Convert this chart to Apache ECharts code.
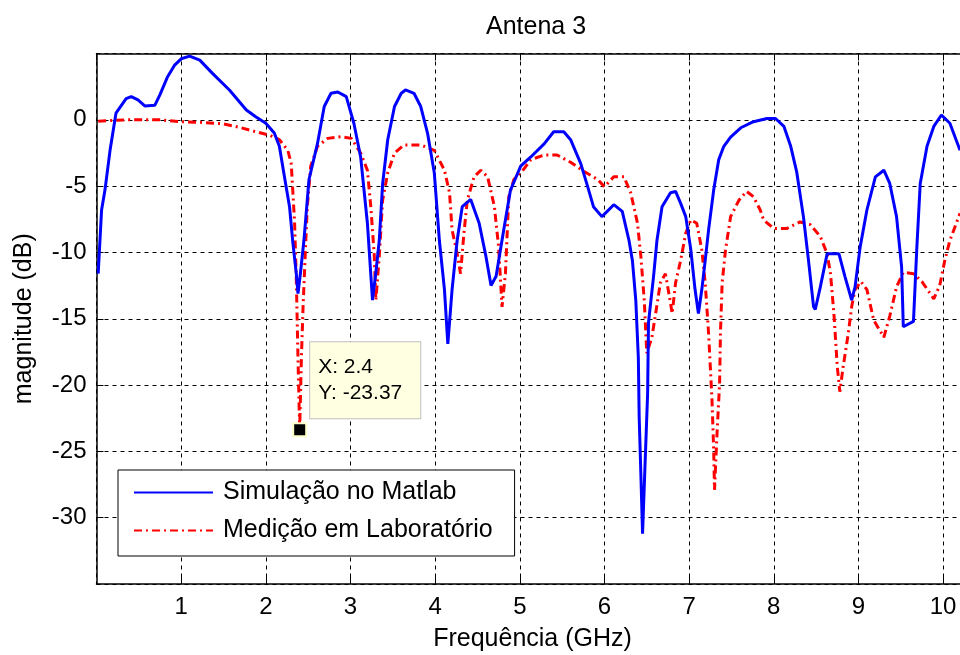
<!DOCTYPE html>
<html>
<head>
<meta charset="utf-8">
<title>Antena 3</title>
<script src="https://cdn.jsdelivr.net/npm/echarts@6/dist/echarts.min.js"></script>
<style>
  html, body { margin: 0; padding: 0; background: #fff; }
  #chart { width: 960px; height: 655px; }
</style>
</head>
<body>
<div id="chart"></div>
<script>
// Simulação no Matlab (GHz, dB)
const simFreq = [0.02, 0.06, 0.1, 0.16, 0.23, 0.35, 0.41, 0.49, 0.57, 0.69, 0.75, 0.84, 0.92, 1.0, 1.1, 1.22, 1.37, 1.57, 1.77, 1.88,
  2.0, 2.1, 2.16, 2.22, 2.28, 2.32, 2.36, 2.38, 2.41, 2.45, 2.51, 2.61, 2.69, 2.77, 2.85, 2.95, 3.04, 3.12, 3.2, 3.26,
  3.3, 3.34, 3.38, 3.44, 3.52, 3.6, 3.65, 3.75, 3.83, 3.91, 3.99, 4.05, 4.11, 4.15, 4.2, 4.26, 4.32, 4.42, 4.52, 4.6,
  4.66, 4.72, 4.81, 4.89, 5.01, 5.13, 5.29, 5.4, 5.52, 5.6, 5.72, 5.8, 5.87, 5.97, 6.11, 6.21, 6.29, 6.33, 6.37, 6.4,
  6.41, 6.43, 6.45, 6.48, 6.51, 6.52, 6.58, 6.62, 6.68, 6.78, 6.84, 6.9, 6.96, 7.02, 7.07, 7.11, 7.15, 7.19, 7.23, 7.29,
  7.35, 7.41, 7.49, 7.61, 7.76, 7.92, 8.02, 8.12, 8.2, 8.27, 8.35, 8.41, 8.47, 8.49, 8.55, 8.63, 8.77, 8.84, 8.92, 8.96,
  9.02, 9.1, 9.2, 9.3, 9.37, 9.45, 9.51, 9.53, 9.65, 9.69, 9.73, 9.81, 9.89, 9.98, 10.08, 10.2]
const simMag = [-11.6, -6.8, -5.3, -2.3, 0.5, 1.6, 1.75, 1.5, 1.05, 1.1, 1.9, 3.25, 4.1, 4.6, 4.8, 4.5, 3.5, 2.25, 0.74, 0.23,
  -0.26, -1.0, -2.0, -4.3, -6.55, -9.3, -11.6, -13.1, -11.5, -9.1, -4.5, -1.8, 1.0, 2.0, 2.1, 1.75, -0.26, -2.8, -7.8, -13.6,
  -11.5, -9.1, -4.8, -1.5, 1.0, 2.0, 2.25, 2.0, 1.0, -1.0, -4.0, -9.1, -12.8, -16.9, -12.8, -9.1, -6.55, -6.0, -7.8, -10.3,
  -12.5, -11.8, -8.3, -5.3, -3.5, -2.8, -1.8, -0.9, -0.9, -1.5, -3.3, -5.0, -6.55, -7.3, -6.4, -6.9, -9.1, -10.6, -13.6, -17.9,
  -22.4, -26.7, -31.2, -25.9, -20.6, -15.3, -11.8, -9.1, -6.55, -5.5, -5.4, -6.3, -7.3, -9.8, -12.8, -14.6, -12.8, -10.6, -8.3, -5.3,
  -3.0, -2.0, -1.3, -0.6, -0.14, 0.1, 0.1, -0.5, -2.0, -3.9, -7.3, -10.6, -14.1, -14.3, -12.6, -10.1, -10.1, -11.8, -13.6, -12.6,
  -9.6, -6.8, -4.3, -3.8, -4.8, -7.3, -11.1, -15.6, -15.2, -9.6, -4.8, -2.0, -0.5, 0.36, -0.26, -2.3]

// Medição em Laboratório (GHz, dB)
const labFreq = [0.02, 0.35, 0.75, 0.98, 1.26, 1.49, 1.69, 1.88, 2.04, 2.16, 2.26, 2.3, 2.32, 2.34, 2.36, 2.38, 2.4, 2.42, 2.44, 2.47,
  2.49, 2.53, 2.61, 2.73, 2.89, 3.01, 3.12, 3.2, 3.24, 3.28, 3.3, 3.34, 3.38, 3.44, 3.52, 3.63, 3.83, 3.99, 4.11, 4.17,
  4.2, 4.26, 4.3, 4.34, 4.38, 4.46, 4.54, 4.62, 4.7, 4.75, 4.79, 4.83, 4.87, 4.93, 5.05, 5.13, 5.29, 5.44, 5.6, 5.76,
  5.92, 6.0, 6.11, 6.23, 6.31, 6.39, 6.43, 6.47, 6.5, 6.56, 6.6, 6.66, 6.72, 6.78, 6.8, 6.84, 6.9, 6.96, 7.02, 7.09,
  7.15, 7.19, 7.23, 7.27, 7.29, 7.3, 7.33, 7.36, 7.37, 7.39, 7.43, 7.49, 7.59, 7.68, 7.76, 7.84, 7.88, 8.0, 8.15, 8.31,
  8.43, 8.55, 8.63, 8.67, 8.71, 8.75, 8.78, 8.82, 8.88, 8.92, 8.96, 9.03, 9.1, 9.18, 9.3, 9.37, 9.45, 9.53, 9.65, 9.75,
  9.89, 9.96, 10.02, 10.08, 10.2]
const labMag = [-0.1, 0, 0, -0.14, -0.2, -0.3, -0.57, -0.9, -1.15, -1.5, -2.3, -3.3, -5.5, -7.8, -12, -18, -23.37, -18, -14.1, -9.5,
  -6.55, -3.5, -2.0, -1.4, -1.27, -1.4, -2.5, -3.8, -6.55, -10.1, -13.6, -10.3, -6.05, -4.0, -2.5, -1.9, -1.9, -2.3, -3.8, -5.5,
  -8.3, -10.1, -11.6, -8.55, -6.05, -4.3, -3.8, -4.3, -6.55, -9.6, -14.1, -11.6, -5.8, -4.5, -3.7, -3.0, -2.65, -2.65, -3.2, -3.9,
  -4.5, -5.05, -4.3, -4.3, -5.5, -7.8, -10.3, -13.6, -17.6, -16.4, -14.8, -12.3, -11.6, -13.8, -14.6, -12.3, -10.6, -8.55, -7.55, -7.8,
  -9.8, -12.3, -16.1, -21.1, -24.9, -27.9, -23.6, -19.9, -16.1, -12.3, -9.8, -7.3, -6.05, -5.4, -5.8, -6.8, -7.55, -8.2, -8.2, -7.7,
  -7.9, -8.8, -10.1, -11.6, -14.6, -18.6, -20.5, -18.6, -16.1, -14.1, -12.8, -12.2, -12.8, -15.1, -16.4, -14.8, -12.6, -11.5, -11.6, -12.2,
  -13.5, -12.5, -10.6, -9.1, -7.05]

// data cursor
const tipX = 2.4
const tipY = -23.37

const fontFamily = "'Liberation Sans', Arial, sans-serif"
const gridDash = [4, 4]

const chart = echarts.init(document.getElementById('chart'), null, { renderer: 'canvas' })

const simData = simFreq.map((f, i) => [f, simMag[i]])
const labData = labFreq.map((f, i) => [f, labMag[i]])

const option = {
  animation: false,
  backgroundColor: '#fff',
  textStyle: { fontFamily: fontFamily },
  title: {
    text: 'Antena 3',
    left: 531,
    top: 10,
    textAlign: 'center',
    textStyle: { fontFamily: fontFamily, fontSize: 25, fontWeight: 'normal', color: '#000' }
  },
  grid: {
    left: 96.5,
    top: 53.5,
    width: 872,
    height: 530.5,
    outerBoundsMode: 'none'
  },
  legend: {
    orient: 'vertical',
    left: 118,
    top: 470,
    padding: [10, 22, 13, 15],
    itemWidth: 79,
    itemHeight: 25,
    itemGap: 13,
    backgroundColor: '#fff',
    borderColor: '#000',
    borderWidth: 1,
    borderRadius: 0,
    itemStyle: { opacity: 0 },
    textStyle: { fontFamily: fontFamily, fontSize: 25, color: '#000', padding: [0, 0, 0, 5] },
    data: ['Simulação no Matlab', 'Medição em Laboratório']
  },
  xAxis: [
    {
      type: 'value',
      min: 0,
      max: 10.3,
      interval: 1,
      name: 'Frequência (GHz)',
      nameLocation: 'middle',
      nameGap: 43,
      nameTextStyle: { fontFamily: fontFamily, fontSize: 25, color: '#000' },
      axisLine: { show: true, onZero: false, lineStyle: { color: '#000', width: 1.5 } },
      axisTick: { show: true, inside: true, length: 7, lineStyle: { color: '#000' } },
      axisLabel: { showMinLabel: false, showMaxLabel: false, margin: 11, fontSize: 24, color: '#000', fontFamily: fontFamily },
      splitLine: { show: true, lineStyle: { color: '#000', type: gridDash, width: 1 } }
    },
    {
      type: 'value',
      position: 'top',
      min: 0,
      max: 10.3,
      interval: 1,
      axisLine: { show: true, onZero: false, lineStyle: { color: '#000', width: 1.5 } },
      axisTick: { show: true, inside: true, length: 7, lineStyle: { color: '#000' } },
      axisLabel: { show: false },
      splitLine: { show: false }
    }
  ],
  yAxis: {
    type: 'value',
    min: -35,
    max: 5,
    interval: 5,
    name: 'magnitude (dB)',
    nameLocation: 'middle',
    nameRotate: 90,
    nameGap: 60,
    nameTextStyle: { fontFamily: fontFamily, fontSize: 25, color: '#000' },
    axisLine: { show: true, onZero: false, lineStyle: { color: '#000', width: 1.5 } },
    axisTick: { show: true, inside: true, length: 7, lineStyle: { color: '#000' } },
    axisLabel: { showMinLabel: false, showMaxLabel: false, margin: 10, fontSize: 24, color: '#000', fontFamily: fontFamily },
    splitLine: { show: true, lineStyle: { color: '#000', type: gridDash, width: 1 } }
  },
  series: [
    {
      name: 'Simulação no Matlab',
      type: 'line',
      data: simData,
      symbol: 'none',
      lineStyle: { color: '#0000ff', width: 3 },
      itemStyle: { color: '#0000ff' },
      z: 3
    },
    {
      name: 'Medição em Laboratório',
      type: 'line',
      data: labData,
      symbol: 'none',
      lineStyle: { color: '#ff0000', width: 3, type: [8, 4, 2, 4] },
      itemStyle: { color: '#ff0000' },
      z: 2,
      markPoint: {
        symbol: 'rect',
        symbolSize: 13,
        itemStyle: { color: '#000', borderColor: '#ffffc8', borderWidth: 2 },
        label: {
          show: true,
          position: [18, -80],
          align: 'left',
          verticalAlign: 'top',
          formatter: 'X: ' + tipX + '\nY: ' + tipY,
          fontFamily: fontFamily,
          fontSize: 21,
          lineHeight: 26,
          color: '#000',
          backgroundColor: '#ffffe1',
          borderColor: '#c0c0c0',
          borderWidth: 1,
          padding: [12, 18, 12, 8]
        },
        data: [{ coord: [tipX, tipY] }]
      }
    }
  ]
}

chart.setOption(option)
</script>
</body>
</html>
